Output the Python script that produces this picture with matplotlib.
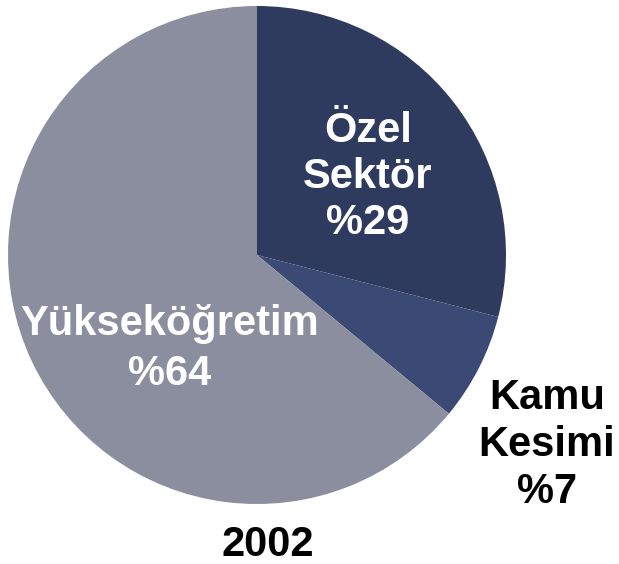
import matplotlib
matplotlib.use('Agg')
import matplotlib.pyplot as plt

# Data
labels = ['Özel\nSektör\n%29', 'Kamu\nKesimi\n%7', 'Yükseköğretim\n%64']
shares = [29, 7, 64]
colors = ['#2e3b5e', '#3b4a74', '#8b8e9e']
year = '2002'

plt.rcParams['font.family'] = ['Liberation Sans', 'DejaVu Sans']

fig = plt.figure(figsize=(6.19, 5.64), dpi=100)
ax = fig.add_axes([0, 0, 1, 1])

# Pie (drawn in pixel-like coordinates)
ax.pie(shares, colors=colors, startangle=90, counterclock=False,
       center=(257, 309), radius=249, frame=True,
       wedgeprops={'linewidth': 0})
ax.set_xlim(0, 619)
ax.set_ylim(0, 564)
ax.set_aspect('equal')
ax.axis('off')

# Labels
ax.text(368, 387, labels[0], color='white', fontsize=30, fontweight='bold',
        ha='center', va='center', linespacing=1.2)
ax.text(547, 119, labels[1], color='black', fontsize=30, fontweight='bold',
        ha='center', va='center', linespacing=1.22)
ax.text(170, 215, labels[2], color='white', fontsize=30, fontweight='bold',
        ha='center', va='center', linespacing=1.3)
ax.text(268, 19, year, color='black', fontsize=30, fontweight='bold',
        ha='center', va='center')

plt.savefig('out.png', dpi=100)
